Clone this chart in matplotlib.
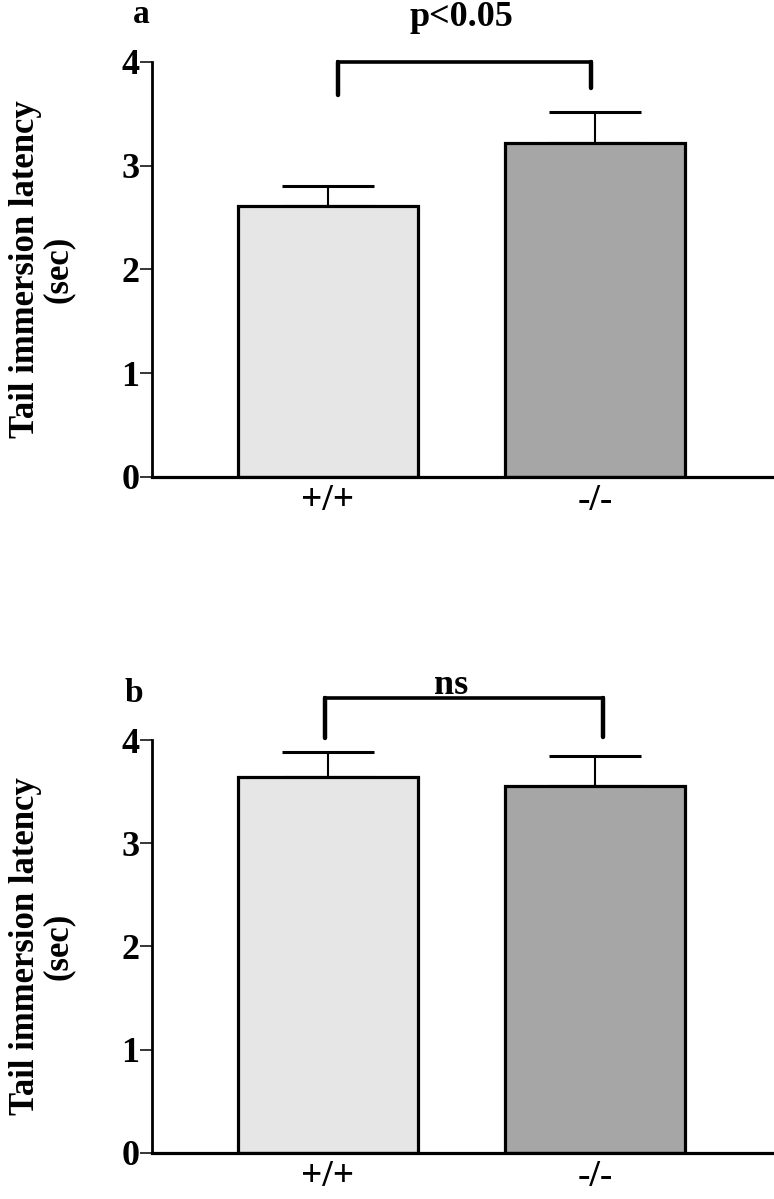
import matplotlib.pyplot as plt

# Data
genotypes = ['+/+', '-/-']
latency_a = [2.61, 3.22]
sem_a = [0.19, 0.30]
latency_b = [3.64, 3.55]
sem_b = [0.24, 0.30]
bar_colors = ['#e6e6e6', '#a6a6a6']

plt.rcParams['font.family'] = ['Liberation Serif', 'DejaVu Serif']
plt.rcParams['font.weight'] = 'bold'

fig = plt.figure(figsize=(7.74, 11.99), dpi=100)
ax_a = fig.add_axes([0.1964, 0.6022, 0.8036, 0.3461])
ax_b = fig.add_axes([0.1964, 0.0384, 0.8036, 0.3444])


def draw_panel(ax, values, errors):
    """Bar chart with upward-only error bars"""
    x = list(range(len(values)))
    ax.bar(x, values, width=0.674, color=bar_colors, edgecolor='black', linewidth=2.3, zorder=2)
    ax.errorbar(x, values, yerr=[[0] * len(errors), errors], fmt='none', ecolor='black',
                elinewidth=1.5, capsize=33, capthick=2.2, zorder=1)
    ax.set_xlim(-0.659, 1.670)
    ax.set_ylim(0, 4)
    ax.set_yticks([0, 1, 2, 3, 4])
    ax.set_xticks(x)
    ax.set_xticklabels(genotypes)
    for side in ['top', 'right']:
        ax.spines[side].set_visible(False)
    ax.spines['left'].set_linewidth(2.0)
    ax.spines['bottom'].set_linewidth(2.3)
    ax.tick_params(axis='y', length=9, width=1.1, labelsize=26, pad=0)
    ax.tick_params(axis='x', length=0, labelsize=27, pad=4)
    ax.set_ylabel('Tail immersion latency\n(sec)', fontsize=25, fontweight='bold', linespacing=1.0)
    # label anchor sits at the right edge of the rotated text block
    ax.yaxis.set_label_coords(-0.124, 0.5)


def draw_bracket(ax, x0, x1, y, y0, y1, label, label_x, label_y):
    ax.plot([x0, x0], [y0, y], color='black', lw=3.2, clip_on=False, solid_capstyle='round')
    ax.plot([x1, x1], [y1, y], color='black', lw=3.2, clip_on=False, solid_capstyle='round')
    ax.plot([x0, x1], [y, y], color='black', lw=2.6, clip_on=False)
    ax.text(label_x, label_y, label, ha='center', va='baseline', fontsize=26, fontweight='bold')


draw_panel(ax_a, latency_a, sem_a)
draw_bracket(ax_a, 0.037, 0.985, 4.0, 3.68, 3.75, 'p<0.05', 0.50, 4.35)
ax_a.text(-0.70, 4.38, 'a', ha='center', va='baseline', fontsize=24, fontweight='bold')

draw_panel(ax_b, latency_b, sem_b)
draw_bracket(ax_b, -0.01, 1.03, 4.41, 4.02, 4.03, 'ns', 0.46, 4.45)
ax_b.text(-0.727, 4.37, 'b', ha='center', va='baseline', fontsize=24, fontweight='bold')

fig.savefig('out.png', dpi=100)
